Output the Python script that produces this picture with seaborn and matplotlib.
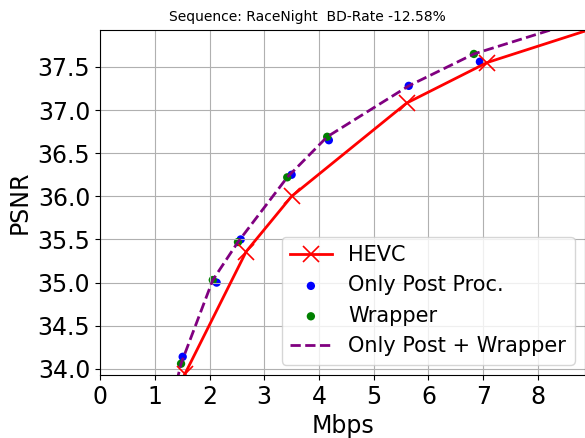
import numpy as np
import pandas as pd
import matplotlib
matplotlib.use('Agg')
import matplotlib.pyplot as plt
import seaborn as sns

# rate (Mbps) / PSNR
hevc_rate = [1.55, 2.67, 3.50, 5.60, 7.07, 10.5]
hevc_psnr = [33.94, 35.36, 36.00, 37.08, 37.55, 38.25]

post_rate = [1.51, 2.13, 2.57, 3.50, 4.18, 5.64, 6.94]
post_psnr = [34.14, 35.00, 35.50, 36.25, 36.65, 37.28, 37.56]

wrap_rate = [1.48, 2.06, 2.52, 3.42, 4.15, 6.83]
wrap_psnr = [34.06, 35.03, 35.47, 36.22, 36.69, 37.65]

both_rate = [1.40, 1.48, 2.06, 2.52, 3.42, 4.15, 5.64, 6.83, 9.0]
both_psnr = [33.85, 34.06, 35.03, 35.47, 36.22, 36.69, 37.28, 37.65, 38.08]

title = 'Sequence: RaceNight  BD-Rate -12.58%'

fig, ax = plt.subplots(figsize=(5.85, 4.38), dpi=100)

sns.lineplot(x=hevc_rate, y=hevc_psnr, ax=ax, color='red', marker='x',
             markersize=12, markeredgewidth=1.2, markeredgecolor='red',
             linewidth=2, sort=False, label='HEVC')
sns.scatterplot(x=post_rate, y=post_psnr, ax=ax, color='blue', s=36,
                edgecolor='none', label='Only Post Proc.')
sns.scatterplot(x=wrap_rate, y=wrap_psnr, ax=ax, color='green', s=36,
                edgecolor='none', label='Wrapper')
sns.lineplot(x=both_rate, y=both_psnr, ax=ax, color='purple', linestyle='--',
             linewidth=2, sort=False, label='Only Post + Wrapper')

ax.set_xlim(0, 8.86)
ax.set_ylim(33.93, 37.93)
ax.set_xticks(range(0, 9))
ax.set_yticks(np.arange(34.0, 37.6, 0.5))
ax.yaxis.set_major_formatter(matplotlib.ticker.FormatStrFormatter('%.1f'))
ax.tick_params(labelsize=17)
ax.grid(True, color='#b0b0b0')
ax.set_xlabel('Mbps', fontsize=17)
ax.set_ylabel('PSNR', fontsize=17)
ax.set_title(title, fontsize=10, x=0.427)
ax.legend(loc='lower right', fontsize=15)

plt.subplots_adjust(left=0.171, right=1.0, top=0.932, bottom=0.144)
plt.savefig('out.png', dpi=100)
